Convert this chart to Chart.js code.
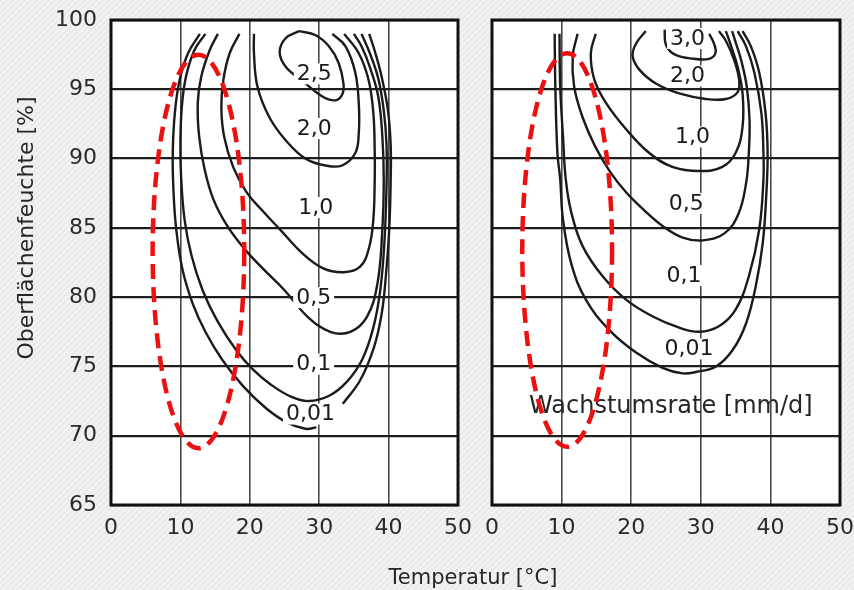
<!DOCTYPE html>
<html>
<head>
<meta charset="utf-8">
<script src="https://cdn.jsdelivr.net/npm/chart.js@4/dist/chart.umd.min.js"></script>
<style>
  html, body { margin: 0; padding: 0; width: 854px; height: 590px; overflow: hidden; background: #ececec; }
  canvas { position: absolute; left: 0; top: -20px; }
</style>
</head>
<body>
<canvas id="left" width="874" height="610"></canvas>
<canvas id="right" width="874" height="610"></canvas>
<script>
// Isoplethen: Wachstumsrate [mm/d] über Temperatur [°C] und Oberflächenfeuchte [%]
const xTicks = [0, 10, 20, 30, 40, 50];
const yTicks = [65, 70, 75, 80, 85, 90, 95, 100];

// left diagram — points as [temperature, humidity], null = break under a label
const left001 = [[12.8, 99.0], [11.1, 97.6], [9.9, 95.7], [9.2, 93.3], [8.9, 90.4], [9.0, 87.7], [9.4, 84.9], [10.3, 82.0], [11.8, 79.5], [13.6, 77.5], [16.0, 75.5], [19.0, 73.6], [22.3, 72.0], [25.2, 71.0], [28.0, 70.5], [29.6, 70.6], null, [33.4, 72.3], [35.9, 74.0], [37.9, 76.4], [39.0, 78.8], [39.6, 81.5], [40.1, 85.0], [40.3, 88.5], [40.3, 91.0], [39.9, 93.5], [39.0, 95.9], [38.1, 97.6], [37.2, 99.0]];
const left01 = [[13.6, 99.0], [12.0, 97.8], [10.8, 95.9], [10.2, 93.7], [10.0, 91.1], [10.1, 88.7], [10.6, 85.6], [11.6, 83.0], [13.2, 80.5], [15.3, 78.3], [18.0, 76.2], [20.4, 74.8], [23.0, 73.7], [26.0, 72.8], [28.5, 72.5], [31.5, 72.9], [34.0, 73.9], [36.2, 75.5], [37.8, 77.8], [38.8, 80.5], [39.4, 84.0], [39.7, 88.0], [39.7, 91.0], [39.3, 93.5], [38.5, 95.8], [37.3, 97.6], [36.1, 99.0]];
const left05 = [[15.4, 99.0], [14.2, 97.8], [13.0, 95.9], [12.5, 94.0], [12.7, 91.6], [13.5, 89.2], [14.8, 87.0], [16.8, 85.1], [19.2, 83.5], [22.0, 82.0], [25.0, 80.5], [28.3, 78.6], [31.6, 77.5], [34.5, 77.5], [36.9, 78.6], [38.4, 81.0], [39.1, 84.9], [39.3, 88.5], [39.1, 91.6], [38.5, 94.5], [37.3, 96.6], [36.1, 98.1], [35.0, 99.0]];
const left10 = [[18.5, 99.0], [17.1, 97.6], [16.2, 95.7], [15.9, 93.7], [16.3, 91.6], [17.6, 89.4], [19.5, 87.6], [21.9, 86.2], [24.5, 84.8], [27.5, 83.2], [30.5, 82.1], [33.5, 81.8], [35.9, 82.2], [37.2, 83.6], [37.8, 85.6], [38.0, 88.5], [38.0, 90.4], [37.8, 93.3], [37.1, 95.7], [35.7, 97.6], [33.6, 99.0]];
const left20 = [[20.6, 99.0], [20.6, 97.6], [21.1, 95.2], [22.8, 93.0], [25.2, 91.3], [28.0, 90.0], [30.9, 89.5], [33.3, 89.5], [35.2, 90.4], [35.7, 91.8], [35.7, 94.0], [35.2, 96.2], [33.8, 98.1], [31.9, 99.0]];
const left25 = [[27.1, 99.2], [25.2, 98.7], [24.3, 97.7], [25.2, 96.6], [27.6, 95.6], [30.4, 94.5], [32.3, 94.2], [33.3, 94.6], [33.5, 95.4], [32.8, 96.9], [31.4, 98.1], [29.5, 98.9], [27.1, 99.2]];
const leftLabels = ['0,01', '0,1', '0,5', '1,0', '2,0', '2,5'];
const leftLabelT = [28.75, 29.2, 29.2, 29.5, 29.3, 29.3];
const leftLabelH = [71.6, 75.2, 80.0, 86.5, 92.2, 96.15];
const leftEllipse = [12.6, 83.3, 6.6, 14.2]; // centre T, centre H, half width, half height

// right diagram
const right001 = [[9.0, 99.0], [9.1, 95.2], [9.4, 90.4], [9.8, 88.5], [10.2, 85.6], [11.4, 82.4], [13.5, 79.8], [16.9, 77.6], [20.7, 76.0], [24.5, 74.9], [27.4, 74.5], [29.3, 74.6], [32.2, 75.0], [34.6, 76.2], [36.5, 78.1], [37.9, 80.8], [38.9, 83.9], [39.4, 87.3], [39.6, 90.4], [39.3, 93.3], [38.4, 96.2], [37.2, 98.1], [36.0, 99.2]];
const right01 = [[9.7, 99.0], [9.8, 95.2], [10.2, 91.6], [10.6, 88.5], [11.4, 86.1], [13.0, 83.7], [15.9, 81.5], [19.3, 79.8], [23.1, 78.6], [26.9, 77.8], [29.8, 77.5], [32.6, 77.9], [35.0, 79.1], [36.9, 81.5], [38.4, 84.9], [39.0, 88.5], [39.0, 90.4], [38.7, 93.3], [37.7, 96.2], [36.5, 98.1], [35.3, 99.2]];
const right05 = [[12.3, 99.0], [11.6, 97.4], [11.8, 95.2], [13.0, 93.0], [14.8, 90.9], [16.9, 89.1], [19.2, 87.6], [21.8, 86.3], [24.6, 85.1], [27.4, 84.3], [30.3, 84.1], [33.4, 84.6], [35.4, 86.0], [36.5, 88.2], [36.9, 90.4], [37.0, 92.8], [36.6, 95.2], [35.8, 97.1], [35.0, 98.4], [34.5, 99.2]];
const right10 = [[14.9, 99.0], [14.2, 97.6], [14.7, 95.7], [16.4, 94.0], [19.3, 92.1], [22.6, 90.4], [25.9, 89.4], [29.8, 89.1], [33.1, 89.4], [35.0, 90.4], [36.0, 92.3], [36.0, 94.7], [35.3, 96.6], [34.3, 98.2], [33.6, 99.2]];
const right20 = [[22.1, 99.2], [20.7, 98.3], [20.2, 97.4], [21.2, 96.4], [23.6, 95.4], [26.9, 94.7], [30.7, 94.3], [33.6, 94.3], [35.3, 94.8], [35.5, 95.7], [34.8, 97.1], [33.6, 98.5], [32.6, 99.2]];
const right30 = [[24.8, 99.3], [25.0, 98.2], [26.3, 97.5], [29.0, 97.2], [31.2, 97.2], [32.1, 97.6], [31.9, 98.3], [31.2, 99.0]];
const rightLabels = ['0,01', '0,1', '0,5', '1,0', '2,0', '3,0'];
const rightLabelT = [28.3, 27.6, 27.9, 28.8, 28.1, 28.1];
const rightLabelH = [76.3, 81.6, 86.8, 91.6, 96.0, 98.7];
const rightEllipse = [10.8, 83.4, 6.45, 14.2];

const FONT = 'DejaVu Sans';
const INK = '#1b1b1b';
const SHIFT = 20; // canvases sit 20px above the window top

function hatchPattern(ctx) {
  const tile = document.createElement('canvas');
  tile.width = 6;
  tile.height = 6;
  const g = tile.getContext('2d');
  g.fillStyle = '#ebebeb';
  g.fillRect(0, 0, 6, 6);
  g.strokeStyle = '#f6f6f6';
  g.lineWidth = 1.5;
  g.beginPath();
  g.moveTo(-1, 7); g.lineTo(7, -1);
  g.moveTo(-4, 4); g.lineTo(4, -4);
  g.moveTo(2, 10); g.lineTo(10, 2);
  g.stroke();
  return ctx.createPattern(tile, 'repeat');
}

const panelDecor = {
  id: 'panelDecor',
  beforeDraw(chart, args, opts) {
    const { ctx, chartArea: a } = chart;
    ctx.save();
    if (opts.background) {
      ctx.fillStyle = hatchPattern(ctx);
      ctx.fillRect(0, 0, chart.width, chart.height);
    }
    ctx.fillStyle = '#ffffff';
    ctx.fillRect(a.left, a.top, a.right - a.left, a.bottom - a.top);
    ctx.restore();
  },
  afterDatasetsDraw(chart, args, opts) {
    const { ctx, scales: { x, y } } = chart;
    ctx.save();
    ctx.font = `22px "${FONT}"`;
    ctx.textAlign = 'center';
    ctx.textBaseline = 'middle';
    opts.labels.forEach((text, i) => {
      const px = x.getPixelForValue(opts.labelT[i]);
      const py = y.getPixelForValue(opts.labelH[i]);
      const w = ctx.measureText(text).width;
      ctx.fillStyle = '#ffffff';
      ctx.fillRect(px - w / 2 - 3, py - 10, w + 6, 21);
      ctx.fillStyle = INK;
      ctx.fillText(text, px, py + 1);
    });
    if (opts.note) {
      ctx.font = `24px "${FONT}"`;
      ctx.fillStyle = '#262626';
      ctx.fillText(opts.note.text, x.getPixelForValue(opts.note.t), y.getPixelForValue(opts.note.h));
    }
    ctx.restore();
  },
  afterDraw(chart, args, opts) {
    const { ctx, chartArea: a, scales: { x, y } } = chart;
    ctx.save();
    ctx.strokeStyle = '#111111';
    ctx.lineWidth = 3;
    ctx.strokeRect(a.left, a.top, a.right - a.left, a.bottom - a.top);

    const [et, eh, ew, ehh] = opts.ellipse;
    const cx = x.getPixelForValue(et);
    const cy = y.getPixelForValue(eh);
    const rx = x.getPixelForValue(et + ew) - cx;
    const ry = cy - y.getPixelForValue(eh + ehh);
    ctx.strokeStyle = '#ec1010';
    ctx.lineWidth = 4.5;
    ctx.setLineDash([15, 8]);
    ctx.beginPath();
    ctx.ellipse(cx, cy, rx, ry, 0, 0, Math.PI * 2);
    ctx.stroke();
    ctx.setLineDash([]);

    if (opts.titles) {
      ctx.fillStyle = '#262626';
      ctx.font = `21px "${FONT}"`;
      ctx.textAlign = 'center';
      ctx.textBaseline = 'alphabetic';
      ctx.fillText('Temperatur [°C]', 473, 584 + SHIFT);
      ctx.translate(27, 228 + SHIFT);
      ctx.rotate(-Math.PI / 2);
      ctx.font = `22px "${FONT}"`;
      ctx.textBaseline = 'middle';
      ctx.fillText('Oberflächenfeuchte [%]', 0, 0);
    }
    ctx.restore();
  },
};

function makePanel(id, curves, decor, isLeft) {
  return new Chart(document.getElementById(id), {
    type: 'scatter',
    data: {
      datasets: curves.map(curve => ({
        data: curve.map(p => (p ? { x: p[0], y: p[1] } : { x: null, y: null })),
        showLine: true,
        spanGaps: false,
        borderColor: INK,
        borderWidth: 2.4,
        pointRadius: 0,
        tension: 0.4,
      })),
    },
    options: {
      responsive: false,
      animation: false,
      devicePixelRatio: 1,
      layout: {
        padding: isLeft
          ? { left: 0, top: 40, right: 416, bottom: 0 }
          : { left: 492, top: 40, right: 34, bottom: 0 },
      },
      plugins: {
        legend: { display: false },
        tooltip: { enabled: false },
        panelDecor: decor,
      },
      scales: {
        x: {
          type: 'linear',
          min: 0,
          max: 50,
          afterBuildTicks: scale => { scale.ticks = xTicks.map(value => ({ value })); },
          afterFit: scale => { scale.height = 85; },
          grid: { color: '#4a4a4a', lineWidth: 1.6, drawTicks: false },
          border: { display: false },
          ticks: { font: { family: FONT, size: 22 }, color: '#2a2a2a', padding: 10, maxRotation: 0 },
        },
        y: {
          type: 'linear',
          min: 65,
          max: 100,
          afterBuildTicks: scale => { scale.ticks = yTicks.map(value => ({ value })); },
          afterFit: scale => { scale.width = isLeft ? 111 : 0; },
          grid: { color: '#1e1e1e', lineWidth: 2.2, drawTicks: false },
          border: { display: false },
          ticks: { display: isLeft, font: { family: FONT, size: 22 }, color: '#2a2a2a', padding: 14 },
        },
      },
    },
    plugins: [panelDecor],
  });
}

makePanel('left', [left001, left01, left05, left10, left20, left25], {
  background: true,
  titles: true,
  labels: leftLabels,
  labelT: leftLabelT,
  labelH: leftLabelH,
  ellipse: leftEllipse,
}, true);

makePanel('right', [right001, right01, right05, right10, right20, right30], {
  background: false,
  titles: false,
  labels: rightLabels,
  labelT: rightLabelT,
  labelH: rightLabelH,
  note: { text: 'Wachstumsrate [mm/d]', t: 25.7, h: 72.1 },
  ellipse: rightEllipse,
}, false);
</script>
</body>
</html>
